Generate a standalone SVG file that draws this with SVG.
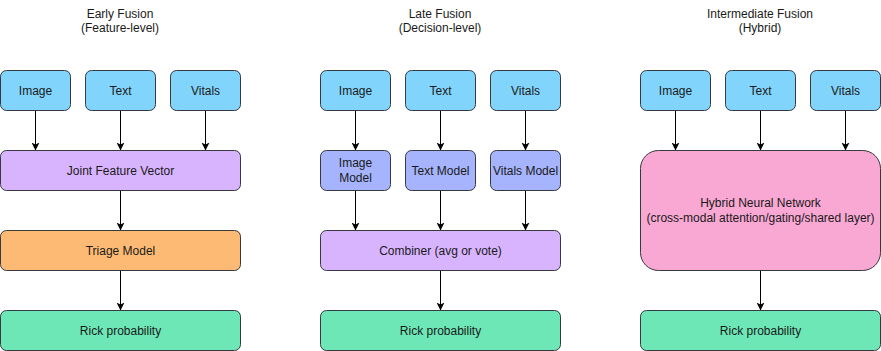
<svg xmlns="http://www.w3.org/2000/svg" width="881" height="351" viewBox="0 0 881 351">
<defs>
<style>
text{font-family:"Liberation Sans",Arial,Helvetica,sans-serif;font-size:12px;fill:#1a1a1a;text-anchor:middle}
rect{stroke:#36393d;stroke-width:1}
.in{fill:#81d4fc}
.jv{fill:#d8b4fe}
.tm{fill:#fdba74}
.rp{fill:#6ee7b7}
.md{fill:#a5b4fc}
.hy{fill:#f9a8d4}
.c line{stroke:#000;stroke-width:1;marker-end:url(#ah)}
</style>
<marker id="ah" viewBox="0 0 8 8" refX="7.5" refY="4" markerWidth="8" markerHeight="8" markerUnits="userSpaceOnUse" orient="auto">
<path d="M0,0 L8,4 L0,8 L2,4 z" fill="#000"/>
</marker>
</defs>
<rect width="881" height="351" fill="#fff" style="stroke:none"/>
<g id="titles">
<text x="120" y="18">Early Fusion</text><text x="120" y="32">(Feature-level)</text>
<text x="440" y="18">Late Fusion</text><text x="440" y="32">(Decision-level)</text>
<text x="760" y="18">Intermediate Fusion</text><text x="760" y="32">(Hybrid)</text>
</g>
<g class="c" id="connectors">
<line x1="35.5" y1="110" x2="35.5" y2="150"/>
<line x1="120.5" y1="110" x2="120.5" y2="150"/>
<line x1="205.5" y1="110" x2="205.5" y2="150"/>
<line x1="120.5" y1="190" x2="120.5" y2="230"/>
<line x1="120.5" y1="270" x2="120.5" y2="310"/>
<line x1="355.5" y1="110" x2="355.5" y2="150"/>
<line x1="440.5" y1="110" x2="440.5" y2="150"/>
<line x1="525.5" y1="110" x2="525.5" y2="150"/>
<line x1="355.5" y1="190" x2="355.5" y2="230"/>
<line x1="440.5" y1="190" x2="440.5" y2="230"/>
<line x1="525.5" y1="190" x2="525.5" y2="230"/>
<line x1="440.5" y1="270" x2="440.5" y2="310"/>
<line x1="675.5" y1="110" x2="675.5" y2="150"/>
<line x1="760.5" y1="110" x2="760.5" y2="150"/>
<line x1="845.5" y1="110" x2="845.5" y2="150"/>
<line x1="760.5" y1="270" x2="760.5" y2="310"/>
</g>
<g id="e-image"><rect class="in" x="0.5" y="70.5" width="70" height="40" rx="6"/><text x="35.5" y="94.5">Image</text></g>
<g id="e-text"><rect class="in" x="85.5" y="70.5" width="70" height="40" rx="6"/><text x="120.5" y="94.5">Text</text></g>
<g id="e-vitals"><rect class="in" x="170.5" y="70.5" width="70" height="40" rx="6"/><text x="205.5" y="94.5">Vitals</text></g>
<g id="e-joint"><rect class="jv" x="0.5" y="150.5" width="240" height="40" rx="6"/><text x="120.5" y="174.5">Joint Feature Vector</text></g>
<g id="e-triage"><rect class="tm" x="0.5" y="230.5" width="240" height="40" rx="6"/><text x="120.5" y="254.5">Triage Model</text></g>
<g id="e-risk"><rect class="rp" x="0.5" y="310.5" width="240" height="40" rx="6"/><text x="120.5" y="334.5">Rick probability</text></g>

<g id="l-image"><rect class="in" x="320.5" y="70.5" width="70" height="40" rx="6"/><text x="355.5" y="94.5">Image</text></g>
<g id="l-text"><rect class="in" x="405.5" y="70.5" width="70" height="40" rx="6"/><text x="440.5" y="94.5">Text</text></g>
<g id="l-vitals"><rect class="in" x="490.5" y="70.5" width="70" height="40" rx="6"/><text x="525.5" y="94.5">Vitals</text></g>
<g id="l-imodel"><rect class="md" x="320.5" y="150.5" width="70" height="40" rx="6"/><text x="355.5" y="167">Image</text><text x="355.5" y="181.5">Model</text></g>
<g id="l-tmodel"><rect class="md" x="405.5" y="150.5" width="70" height="40" rx="6"/><text x="440.5" y="174.5">Text Model</text></g>
<g id="l-vmodel"><rect class="md" x="490.5" y="150.5" width="70" height="40" rx="6"/><text x="525.5" y="174.5">Vitals Model</text></g>
<g id="l-combiner"><rect class="jv" x="320.5" y="230.5" width="240" height="40" rx="6"/><text x="440.5" y="254.5">Combiner (avg or vote)</text></g>
<g id="l-risk"><rect class="rp" x="320.5" y="310.5" width="240" height="40" rx="6"/><text x="440.5" y="334.5">Rick probability</text></g>

<g id="i-image"><rect class="in" x="640.5" y="70.5" width="70" height="40" rx="6"/><text x="675.5" y="94.5">Image</text></g>
<g id="i-text"><rect class="in" x="725.5" y="70.5" width="70" height="40" rx="6"/><text x="760.5" y="94.5">Text</text></g>
<g id="i-vitals"><rect class="in" x="810.5" y="70.5" width="70" height="40" rx="6"/><text x="845.5" y="94.5">Vitals</text></g>
<g id="i-hybrid"><rect class="hy" x="640.5" y="150.5" width="240" height="120" rx="18"/><text x="760.5" y="207">Hybrid Neural Network</text><text x="760.5" y="221.5">(cross-modal attention/gating/shared layer)</text></g>
<g id="i-risk"><rect class="rp" x="640.5" y="310.5" width="240" height="40" rx="6"/><text x="760.5" y="334.5">Rick probability</text></g>
</svg>
